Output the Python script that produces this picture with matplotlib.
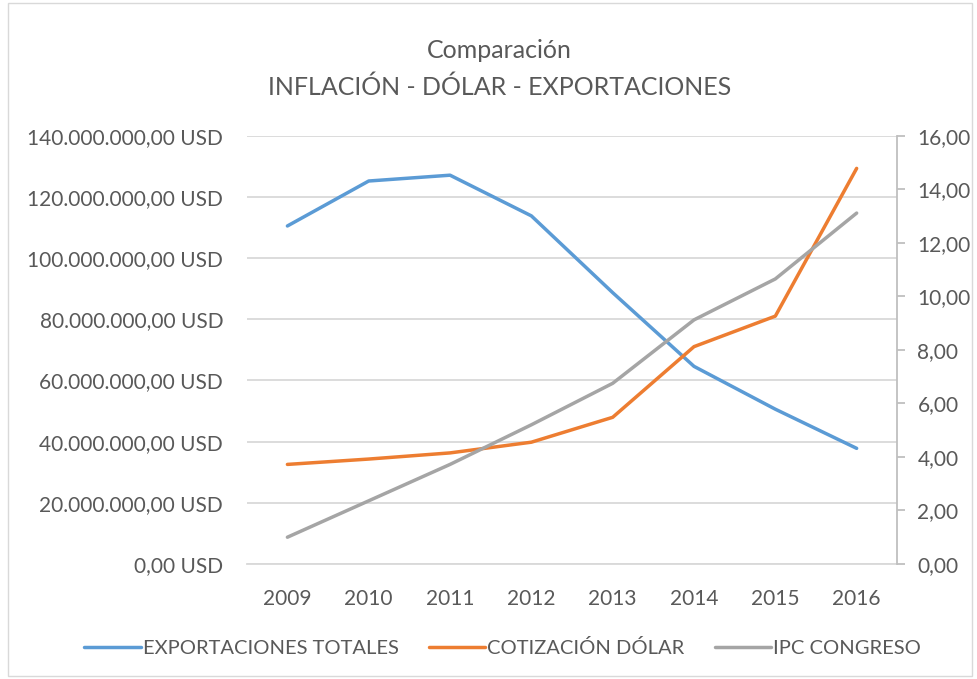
import matplotlib.pyplot as plt
from matplotlib.ticker import FuncFormatter, MultipleLocator
from matplotlib.patches import Rectangle

years = ["2009", "2010", "2011", "2012", "2013", "2014", "2015", "2016"]
exportaciones = [110.5e6, 125.2e6, 127.1e6, 113.8e6, 88.7e6, 64.6e6, 50.6e6, 37.8e6]
cotizacion_dolar = [3.72, 3.92, 4.15, 4.55, 5.48, 8.12, 9.26, 14.78]
ipc_congreso = [1.00, 2.36, 3.72, 5.20, 6.75, 9.12, 10.65, 13.11]

BLUE = "#5B9BD5"
ORANGE = "#ED7D31"
GRAY = "#A5A5A5"
TXT = "#595959"
GRID = "#D9D9D9"

plt.rcParams['font.family'] = ['Lato', 'DejaVu Sans']


def usd_fmt(v, pos):
    s = f"{v:,.2f}".replace(",", "X").replace(".", ",").replace("X", ".")
    return s + " USD"


def num_fmt(v, pos):
    return f"{v:.2f}".replace(".", ",")


fig = plt.figure(figsize=(9.78, 6.79), dpi=100)
fig.patches.append(Rectangle((0.008, 0.004), 0.986, 0.992, transform=fig.transFigure,
                             fill=False, edgecolor=GRID, linewidth=1))

ax = fig.add_axes([0.2523, 0.1694, 0.6652, 0.6307])
ax2 = ax.twinx()

x = range(len(years))
l1, = ax.plot(x, exportaciones, color=BLUE, linewidth=2.5, solid_capstyle='round',
              label="EXPORTACIONES TOTALES")
l2, = ax2.plot(x, cotizacion_dolar, color=ORANGE, linewidth=2.5, solid_capstyle='round',
               label="COTIZACIÓN DÓLAR")
l3, = ax2.plot(x, ipc_congreso, color=GRAY, linewidth=2.5, solid_capstyle='round',
               label="IPC CONGRESO")

ax.set_xlim(-0.5, 7.5)
ax.set_ylim(0, 140e6)
ax2.set_ylim(0, 16)
ax.yaxis.set_major_locator(MultipleLocator(20e6))
ax2.yaxis.set_major_locator(MultipleLocator(2))
ax.yaxis.set_major_formatter(FuncFormatter(usd_fmt))
ax2.yaxis.set_major_formatter(FuncFormatter(num_fmt))
ax.set_xticks(list(x))
ax.set_xticklabels(years)

ax.grid(axis='y', color=GRID, linewidth=1.3)
ax.set_axisbelow(True)

for a in (ax, ax2):
    for s in ("top", "left"):
        a.spines[s].set_visible(False)
ax.spines["right"].set_visible(False)
ax2.spines["bottom"].set_visible(False)
ax.spines["bottom"].set_color(GRID)
ax.spines["bottom"].set_linewidth(1.3)
ax2.spines["right"].set_color("#BFBFBF")
ax2.spines["right"].set_linewidth(1.3)

ax.tick_params(axis='y', length=0, labelsize=15, labelcolor=TXT, pad=17)
ax.tick_params(axis='x', length=0, labelsize=15, labelcolor=TXT, pad=18)
ax2.tick_params(axis='y', length=5.5, color="#BFBFBF", width=1.3, labelsize=15,
                labelcolor=TXT, pad=9)

fig.text(0.511, 0.925, "Comparación", ha='center', va='center', fontsize=18, color=TXT)
fig.text(0.511, 0.872, "INFLACIÓN - DÓLAR - EXPORTACIONES", ha='center', va='center',
         fontsize=18, color=TXT)

fig.legend(handles=[l1, l2, l3], loc='center', bbox_to_anchor=(0.514, 0.045), ncol=3,
           frameon=False, fontsize=14.5, labelcolor=TXT, handlelength=2.8,
           handletextpad=0.1, columnspacing=1.5)

fig.savefig("out.png", dpi=100)
